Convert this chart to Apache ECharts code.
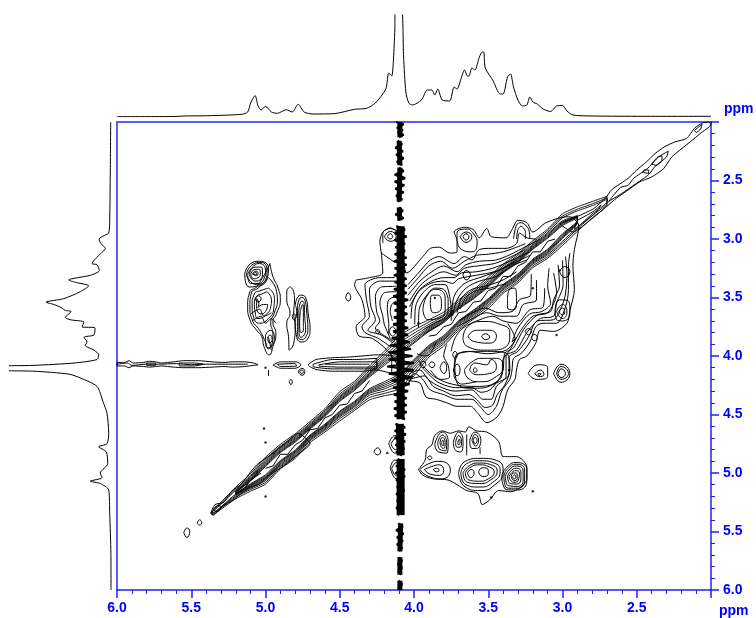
<!DOCTYPE html>
<html><head><meta charset="utf-8">
<style>html,body{margin:0;padding:0;background:#fff}#c{width:756px;height:618px}</style>
<script src="https://cdn.jsdelivr.net/npm/echarts@6/dist/echarts.min.js"></script>
</head><body><div id="c"></div>
<script>
// ---------- axis ticks
const ppmMin = 2.0, ppmMax = 6.0, ppmStep = 0.5, ppmLabel = 'ppm';
// ---------- 1D projections: [ppm, intensity]
const topSpectrum = [[6,.3],[5.61,.5],[5.55,1],[5.38,1.3],[5.16,2.7],[5.12,5],[5.10,14],[5.07,21.5],[5.05,11],[5.03,7],[5.0,10.7],[4.96,5],[4.92,3.7],[4.86,7.3],[4.82,5],[4.78,12.7],[4.74,5],[4.68,3],[4.54,3.3],[4.40,7.7],[4.32,8.7],[4.26,14],[4.19,28],[4.17,44],[4.15,41],[4.13,83],[4.125,110],[4.085,110],[4.07,60],[4.055,25],[4.035,14],[4.01,12],[3.95,17],[3.91,27],[3.88,27],[3.86,22],[3.84,28],[3.81,17],[3.76,16],[3.73,30],[3.71,28],[3.68,40],[3.66,47],[3.64,41],[3.63,41],[3.61,49],[3.59,47],[3.56,60],[3.54,65],[3.53,65],[3.52,49],[3.47,37],[3.42,23],[3.40,23],[3.37,40],[3.35,43],[3.33,30],[3.30,17],[3.27,11],[3.24,12],[3.22,20],[3.20,15],[3.17,13],[3.13,8],[3.08,5.5],[3.04,11],[3.0,11.5],[2.97,6],[2.93,2],[2.79,1],[2.46,.7],[2,.7]];
const leftSpectrum = [[.3,2],[.7,2.41],[1.3,2.84],[2.3,2.95],[6.7,2.97],[12,3.0],[10,3.04],[5.7,3.08],[12.3,3.14],[19,3.21],[14,3.22],[11.7,3.27],[20.7,3.31],[42.3,3.35],[35.7,3.37],[22.3,3.40],[30.7,3.45],[47.3,3.51],[65,3.54],[57,3.56],[49,3.59],[46,3.61],[40,3.62],[45.7,3.67],[40.7,3.69],[27,3.71],[29,3.75],[16,3.76],[17,3.82],[27,3.84],[24,3.88],[25.7,3.91],[17,3.95],[12.3,3.99],[14,4.03],[37,4.06],[77,4.08],[115,4.09],[115,4.12],[77,4.13],[42,4.155],[30,4.19],[14,4.26],[8,4.39],[4,4.49],[2.3,4.66],[4,4.75],[12.3,4.775],[4.7,4.82],[3.3,4.92],[10.7,5.0],[9,5.04],[20.7,5.07],[10.7,5.09],[2.3,5.145],[1.3,5.345],[.1,5.69],[0,6]];
// ---------- 2D contours: flat f2,f1 lists
const mainOuter = [4.39,3.35,4.30,3.33,4.21,3.29,4.22,3.12,4.23,3.03,4.21,2.94,4.16,2.91,4.11,2.95,4.07,3.18,4.05,3.29,3.94,3.15,3.89,3.08,3.83,3.07,3.76,3.12,3.71,3.11,3.71,3.01,3.73,2.94,3.66,2.90,3.60,2.92,3.56,2.99,3.51,2.91,3.48,2.98,3.38,2.99,3.34,2.92,3.30,2.84,3.24,2.86,3.20,2.94,3.11,2.86,2.97,2.81,2.93,2.82,2.89,2.89,2.92,3.09,2.93,3.23,2.92,3.43,2.95,3.61,2.97,3.72,3.06,3.79,3.15,3.78,3.18,3.89,3.24,4.00,3.29,4.03,3.31,4.12,3.32,4.20,3.37,4.29,3.40,4.43,3.44,4.52,3.51,4.57,3.57,4.49,3.62,4.43,3.71,4.43,3.78,4.40,3.85,4.37,3.92,4.35,3.96,4.23,4.05,4.20,4.16,3.98,4.28,3.85,4.37,3.83,4.39,3.75,4.33,3.66,4.35,3.52,4.40,3.39];
const upperOpen = [
 [4.04,3.39,3.97,3.29,3.89,3.18,3.83,3.15,3.73,3.21,3.66,3.15,3.61,3.18,3.56,3.09,3.48,3.08,3.38,3.08,3.31,3.04,3.29,2.95,3.24,2.99,3.18,3.0],
 [4.04,3.43,3.97,3.33,3.9,3.23,3.82,3.19,3.74,3.25,3.66,3.19,3.58,3.14,3.5,3.13,3.4,3.11,3.33,3.08,3.25,3.04],
 [4.04,3.48,3.96,3.36,3.88,3.28,3.80,3.23,3.71,3.28,3.65,3.22,3.56,3.19,3.45,3.18,3.355,3.135,3.24,3.06,3.15,3.0],
 [4.03,3.53,3.96,3.4,3.88,3.32,3.8,3.28,3.72,3.31,3.66,3.25,3.57,3.23,3.46,3.21,3.36,3.16,3.25,3.09],
 [4.03,3.58,3.96,3.43,3.88,3.36,3.80,3.33,3.73,3.33,3.68,3.29,3.58,3.28,3.47,3.25,3.355,3.19,3.22,3.11],
 [4.02,3.68,4.01,3.55,3.97,3.45,3.89,3.38,3.80,3.36,3.74,3.38,3.70,3.34,3.58,3.31,3.46,3.28,3.35,3.22,3.22,3.14],
 [3.995,3.73,3.99,3.58,3.94,3.46,3.86,3.39,3.79,3.39,3.76,3.49,3.75,3.605,3.78,3.68,3.85,3.75,3.93,3.81],
 [3.97,3.76,3.965,3.6,3.92,3.49,3.86,3.42,3.80,3.43,3.77,3.52,3.77,3.62,3.80,3.68,3.86,3.72,3.93,3.77],
 [3.74,3.66,3.71,3.52,3.65,3.42,3.56,3.36,3.445,3.32,3.34,3.23,3.24,3.18],
 [3.71,3.63,3.68,3.505,3.61,3.43,3.51,3.40,3.40,3.35,3.31,3.28],
 [3.75,3.70,3.73,3.49,3.66,3.38,3.535,3.32,3.43,3.27,3.31,3.18],
 [3.69,3.6,3.65,3.5,3.58,3.44,3.49,3.42,3.38,3.38],
 [3.33,3.0,3.31,2.88,3.28,2.86,3.23,2.91,3.22,3.0],
 [3.31,3.0,3.30,2.92,3.28,2.89,3.25,2.935,3.25,3.0],
 [4.22,3.12,4.13,3.2],[4.21,3.035,4.21,2.95,4.16,2.905,4.11,2.935]
];
const upperRings = [
 [3.94,3.605,3.91,3.48,3.85,3.43,3.79,3.505,3.79,3.605,3.84,3.68,3.905,3.69],
 [3.89,3.55,3.88,3.48,3.84,3.48,3.815,3.55,3.83,3.62,3.87,3.63],
 [3.71,3.01,3.71,2.95,3.65,2.915,3.60,2.955,3.575,3.035,3.61,3.11,3.68,3.09],
 [3.69,2.98,3.65,2.94,3.61,2.98,3.65,3.03],[3.67,2.98,3.65,2.955,3.63,2.98,3.65,3.01],
 [3.67,3.305,3.65,3.27,3.62,3.305,3.65,3.35],
 [4.2,2.98,4.16,2.935,4.12,2.98,4.16,3.02],[4.18,2.98,4.16,2.955,4.145,2.98,4.16,3.0],
 [3.05,3.605,3.02,3.52,2.96,3.53,2.95,3.63,3.0,3.70,3.04,3.69],
 [3.04,3.62,3.0,3.56,2.97,3.62,3.0,3.68],[3.025,3.62,3.0,3.59,2.985,3.62,3.0,3.65],
 [3.02,3.28,2.985,3.235,2.95,3.28,2.985,3.33],
 [3.37,3.505,3.355,3.43,3.32,3.42,3.31,3.55,3.33,3.605,3.37,3.59],
 [3.25,3.79,3.23,3.765,3.21,3.79,3.23,3.82],[3.21,3.84,3.19,3.815,3.17,3.84,3.19,3.87]
];
const lowerOpen = [
 [2.95,3.12,2.96,3.23,2.96,3.43,2.98,3.58,3.04,3.72,3.13,3.72,3.18,3.75,3.22,3.88,3.28,3.98,3.33,4.02,3.34,4.12,3.355,4.20,3.41,4.30,3.445,4.43,3.50,4.50,3.557,4.43,3.61,4.37,3.71,4.37,3.80,4.33,3.89,4.29,3.94,4.20,3.995,4.15,4.04,4.25],
 [2.98,3.15,2.97,3.3,2.98,3.47,3.0,3.56,3.06,3.69,3.17,3.70,3.23,3.84,3.30,3.96,3.36,4.01,3.36,4.14,3.39,4.25,3.44,4.33,3.47,4.42,3.52,4.44,3.58,4.37,3.63,4.33,3.72,4.34,3.8,4.3,3.87,4.26,3.93,4.17,4.03,4.2],
 [3.0,3.18,2.996,3.39,3.04,3.55,3.06,3.66,3.15,3.68,3.24,3.80,3.31,3.95,3.38,4.0,3.38,4.175,3.445,4.26,3.48,4.37,3.535,4.37,3.61,4.29,3.725,4.30,3.83,4.26,3.905,4.20,3.96,4.12,4.03,4.15],
 [3.03,3.22,3.02,3.4,3.06,3.52,3.08,3.62,3.17,3.65,3.26,3.77,3.33,3.93,3.39,3.98,3.40,4.12,3.43,4.2,3.49,4.29,3.55,4.31,3.61,4.27,3.72,4.27,3.83,4.23,3.89,4.17,3.95,4.09],
 [3.06,3.29,3.04,3.46,3.10,3.63,3.20,3.66,3.28,3.78,3.355,3.95,3.40,4.03,3.41,4.175,3.49,4.25,3.58,4.26,3.71,4.25,3.83,4.20,3.89,4.12],
 [3.09,3.25,3.1,3.4,3.08,3.55,3.14,3.62,3.22,3.64,3.30,3.76,3.34,3.88,3.31,3.84],
 [3.12,3.42,3.13,3.58,3.22,3.605,3.31,3.72,3.40,3.70,3.47,3.66,3.557,3.69,3.67,3.76,3.725,3.85,3.75,3.96],
 [3.175,3.35,3.175,3.52,3.265,3.56,3.31,3.66,3.42,3.66,3.51,3.63,3.62,3.69,3.71,3.75],
 [3.21,3.3,3.215,3.48,3.29,3.52,3.34,3.62,3.43,3.63,3.52,3.59,3.62,3.64,3.70,3.70],
 [3.37,3.72,3.32,3.85,3.38,3.95,3.51,3.98,3.64,3.96,3.72,4.0,3.73,4.17,3.68,4.24,3.58,4.22],
 [3.78,3.9,3.80,4.0,3.77,4.08,3.76,4.18,3.82,4.2,3.88,4.16,3.97,4.04],
 [3.85,3.88,3.89,3.98,3.93,4.0,3.98,3.98]
];
const lowerRings = [
 [3.67,3.85,3.64,3.75,3.535,3.705,3.42,3.73,3.355,3.80,3.38,3.92,3.51,3.95,3.64,3.92],
 [3.636,3.83,3.58,3.78,3.49,3.78,3.445,3.83,3.49,3.89,3.60,3.875],
 [3.545,3.83,3.52,3.81,3.49,3.84,3.52,3.86],
 [3.725,4.09,3.69,3.975,3.535,3.96,3.38,3.975,3.355,4.12,3.445,4.23,3.60,4.275,3.71,4.23],
 [3.66,4.12,3.61,4.05,3.535,4.02,3.445,4.02,3.40,4.09,3.445,4.175,3.557,4.22,3.636,4.19],
 [3.625,4.12,3.59,4.06,3.51,4.075,3.48,4.03,3.445,4.09,3.49,4.15,3.58,4.16],
 [3.60,4.12,3.59,4.10,3.575,4.125,3.595,4.14],
 [3.23,4.15,3.165,4.075,3.10,4.10,3.10,4.175,3.175,4.20],
 [3.185,4.15,3.15,4.12,3.125,4.16,3.16,4.175],[3.165,4.15,3.145,4.15,3.16,4.17],
 [3.06,4.15,3.01,4.07,2.95,4.15,3.01,4.225],[3.04,4.15,3.01,4.09,2.96,4.15,3.01,4.20],[3.03,4.15,3.01,4.11,2.98,4.15,3.01,4.185],
 [3.96,4.07,3.94,4.045,3.92,4.07,3.94,4.10],[3.90,4.075,3.88,4.05,3.86,4.075,3.88,4.10],
 [3.825,4.10,3.80,4.05,3.78,4.10,3.80,4.15],[3.735,4.12,3.71,4.07,3.69,4.12,3.71,4.17],[3.74,3.99,3.725,3.96,3.71,3.99,3.725,4.02]
];
const leftOpen = [
 [4.13,3.33,4.23,3.33,4.33,3.39,4.32,3.52,4.30,3.66,4.35,3.75,4.33,3.80,4.24,3.85,4.16,3.92],
 [4.12,3.36,4.23,3.36,4.30,3.43,4.29,3.58,4.26,3.69,4.31,3.78,4.22,3.82,4.14,3.89],
 [4.12,3.405,4.22,3.41,4.26,3.49,4.25,3.63,4.23,3.70,4.26,3.76,4.17,3.85,4.13,3.88],
 [4.12,3.45,4.20,3.46,4.23,3.55,4.21,3.66,4.20,3.73,4.16,3.85],
 [4.12,3.49,4.17,3.52,4.18,3.605,4.17,3.72,4.17,3.82],
 [4.12,3.53,4.15,3.56,4.16,3.62,4.145,3.7]
];
const leftRings = [
 [4.167,3.79,4.147,3.75,4.123,3.79,4.145,3.83],[4.26,3.795,4.246,3.775,4.23,3.795,4.246,3.81],[4.46,3.50,4.444,3.46,4.426,3.50,4.444,3.53],
 [4.27,4.82,4.247,4.785,4.225,4.82,4.247,4.845],
 [4.17,4.75,4.13,4.68,4.10,4.75,4.13,4.83],[4.155,4.75,4.12,4.70,4.10,4.78,4.125,4.80],
 [4.16,4.96,4.13,4.89,4.09,4.95,4.12,5.05],[4.15,4.96,4.12,4.91,4.10,4.98,4.12,5.02]
];
const peakClusterA = [
 [5.14,3.30,5.10,3.21,5.04,3.19,4.98,3.25,4.99,3.34,5.04,3.40,5.11,3.41],[5.13,3.31,5.09,3.22,5.03,3.20,4.99,3.27,5.0,3.35,5.06,3.39],
 [5.12,3.30,5.08,3.23,5.04,3.21,5.0,3.27,5.01,3.34,5.05,3.38,5.10,3.38],[5.11,3.30,5.07,3.24,5.03,3.24,5.02,3.29,5.03,3.34,5.07,3.36],
 [5.10,3.30,5.07,3.26,5.04,3.26,5.035,3.30,5.05,3.33,5.08,3.34],[5.09,3.30,5.065,3.275,5.05,3.29,5.055,3.31],[5.08,3.295,5.065,3.285,5.06,3.30,5.07,3.31]
];
const peakClusterB = [
 [4.97,3.21,4.95,3.32,4.915,3.42,4.90,3.52,4.925,3.635,4.95,3.71,4.93,3.81,4.95,3.92,4.975,3.99,5.01,3.92,5.025,3.835,5.06,3.78,5.105,3.69,5.12,3.58,5.105,3.45,5.06,3.41],
 [4.98,3.33,4.925,3.45,4.92,3.53,4.94,3.63,4.965,3.72,4.95,3.81,4.955,3.89,4.98,3.94,5.0,3.88,5.04,3.78,5.09,3.69,5.105,3.58,5.095,3.46,5.05,3.42],
 [4.98,3.42,4.94,3.50,4.945,3.60,4.98,3.68,5.04,3.72,5.08,3.67,5.09,3.57,5.075,3.47,5.03,3.44],
 [4.99,3.45,4.96,3.52,4.965,3.58,5.0,3.65,5.05,3.68,5.07,3.62,5.075,3.56,5.06,3.49,5.025,3.47],
 [5.06,3.51,5.045,3.55,5.05,3.585,5.015,3.56,4.985,3.56,5.0,3.62,5.03,3.64,5.06,3.58],
 [5.07,3.51,5.05,3.485,5.03,3.51,5.05,3.54],
 [5.0,3.82,4.97,3.78,4.94,3.84,4.95,3.90,4.98,3.93,5.0,3.88],[4.985,3.84,4.97,3.82,4.955,3.86,4.975,3.89]
];
const peakClusterBOpen = [[5.09,3.70,5.03,3.66,5.0,3.72,4.96,3.68,4.93,3.72],[5.1,3.64,5.04,3.60,5.01,3.66,4.96,3.63],[4.98,3.84,4.96,3.95],[4.98,4.12,4.98,4.17]];
const peakClusterC = [
 [4.835,3.407,4.81,3.45,4.805,3.52,4.81,3.635,4.80,3.75,4.81,3.89,4.84,3.95,4.845,3.835,4.857,3.72,4.835,3.635,4.857,3.52,4.857,3.45],
 [4.82,3.66,4.81,3.64,4.795,3.66,4.81,3.69],
 [4.80,3.56,4.765,3.48,4.73,3.50,4.71,3.66,4.70,3.76,4.72,3.86,4.76,3.88,4.795,3.80,4.80,3.72,4.79,3.62],
 [4.785,3.58,4.76,3.50,4.735,3.52,4.72,3.66,4.715,3.76,4.73,3.84,4.76,3.86,4.785,3.79,4.785,3.68],
 [4.775,3.60,4.755,3.53,4.74,3.55,4.735,3.68,4.73,3.77,4.74,3.82,4.76,3.84,4.775,3.77],
 [4.765,3.62,4.75,3.56,4.745,3.60,4.745,3.70,4.745,3.78,4.76,3.80,4.77,3.72],
 [4.78,4.135,4.755,4.105,4.735,4.135,4.755,4.165],[4.77,4.135,4.755,4.12,4.745,4.135,4.755,4.15],[4.84,4.22,4.83,4.20,4.82,4.22,4.83,4.245]
];
const ridgeRings = [
 [6.0,4.055,5.95,4.055,5.92,4.04,5.89,4.06,5.82,4.055,5.78,4.045,5.74,4.05,5.7,4.06,5.62,4.05,5.55,4.04,5.45,4.04,5.36,4.05,5.28,4.055,5.22,4.05,5.14,4.05,5.08,4.06,5.05,4.075,5.08,4.08,5.14,4.09,5.22,4.095,5.28,4.09,5.36,4.095,5.45,4.10,5.55,4.10,5.62,4.095,5.7,4.085,5.74,4.09,5.78,4.095,5.82,4.09,5.89,4.085,5.92,4.10,5.95,4.085,6.0,4.085],
 [5.58,4.06,5.48,4.06,5.42,4.07,5.48,4.085,5.58,4.085],[5.80,4.06,5.74,4.06,5.74,4.08,5.80,4.08],
 [4.95,4.077,4.90,4.05,4.79,4.05,4.76,4.077,4.80,4.105,4.90,4.105],[4.92,4.07,4.80,4.065,4.79,4.085,4.90,4.09],
 [4.71,4.07,4.66,4.03,4.55,4.015,4.45,4.01,4.35,4.0,4.25,3.99,4.15,4.0,4.15,4.15,4.25,4.12,4.35,4.13,4.45,4.13,4.55,4.13,4.66,4.115,4.71,4.08],
 [4.68,4.07,4.55,4.03,4.4,4.03,4.25,4.02,4.25,4.11,4.4,4.11,4.55,4.11,4.68,4.09],
 [4.64,4.075,4.5,4.05,4.35,4.05,4.25,4.05,4.25,4.09,4.35,4.095,4.5,4.095,4.64,4.085]
];
const ridgeOpen = [[6.0,4.07,5.93,4.06,5.9,4.08,5.8,4.07,5.72,4.07,5.6,4.065,5.5,4.075,5.4,4.07,5.25,4.07,5.12,4.07],[4.6,4.07,4.3,4.07]];
const lowerGroupOuter = [3.97,4.97,3.925,4.89,3.915,4.80,3.88,4.76,3.86,4.68,3.81,4.64,3.755,4.66,3.70,4.64,3.655,4.65,3.63,4.605,3.58,4.64,3.51,4.65,3.43,4.73,3.40,4.86,3.31,4.86,3.24,4.95,3.24,5.05,3.29,5.13,3.35,5.16,3.43,5.15,3.49,5.23,3.54,5.27,3.57,5.175,3.645,5.15,3.71,5.10,3.77,5.06,3.87,5.05,3.94,5.02];
const lowerGroupRings = [
 [3.86,4.75,3.81,4.65,3.77,4.73,3.78,4.83,3.835,4.82],[3.84,4.74,3.81,4.675,3.78,4.74,3.785,4.81,3.825,4.80],[3.825,4.74,3.81,4.695,3.79,4.74,3.80,4.79,3.815,4.78],[3.815,4.74,3.805,4.72,3.80,4.75,3.805,4.77],
 [3.735,4.74,3.70,4.65,3.67,4.72,3.685,4.82,3.725,4.80],[3.72,4.74,3.70,4.68,3.68,4.73,3.69,4.78,3.71,4.78],[3.705,4.74,3.695,4.71,3.69,4.74,3.70,4.76],
 [3.625,4.72,3.59,4.65,3.55,4.72,3.58,4.79,3.61,4.79],[3.61,4.72,3.59,4.67,3.565,4.72,3.585,4.77],[3.60,4.72,3.59,4.695,3.575,4.72,3.59,4.75],
 [3.96,4.97,3.90,4.92,3.825,4.90,3.755,4.975,3.81,5.05,3.90,5.03],[3.93,4.97,3.87,4.94,3.83,4.93,3.80,4.98,3.83,5.02,3.89,5.01],[3.87,4.97,3.85,4.96,3.83,4.975,3.85,4.99],[3.91,4.87,3.895,4.855,3.88,4.87,3.895,4.885],
 [3.70,5.0,3.655,4.90,3.555,4.875,3.43,4.90,3.40,4.99,3.455,5.10,3.555,5.15,3.655,5.12],[3.685,5.0,3.645,4.92,3.56,4.895,3.45,4.92,3.42,4.985,3.47,5.08,3.56,5.12,3.65,5.10],
 [3.67,5.0,3.63,4.94,3.56,4.915,3.47,4.935,3.44,4.985,3.485,5.06,3.56,5.09,3.64,5.08],[3.655,5.0,3.625,4.955,3.56,4.93,3.49,4.95,3.46,4.99,3.50,5.05,3.56,5.07,3.63,5.06],
 [3.64,5.0,3.615,4.97,3.595,5.0,3.62,5.04],[3.565,4.99,3.54,4.955,3.50,4.975,3.50,5.01,3.54,5.03]
];
const lowerGroupOpen = [[3.645,4.67,3.645,4.85],[3.555,4.78,3.555,4.84]];
const darkPeakK = [
 [3.41,5.03,3.375,4.95,3.31,4.91,3.24,4.975,3.24,5.06,3.30,5.145,3.365,5.145,3.40,5.10],[3.395,5.03,3.37,4.965,3.31,4.925,3.255,4.975,3.255,5.06,3.30,5.13,3.36,5.13,3.39,5.09],
 [3.385,5.03,3.36,4.975,3.31,4.94,3.265,4.985,3.265,5.06,3.305,5.115,3.355,5.11,3.38,5.08],[3.37,5.03,3.35,4.985,3.31,4.96,3.28,4.99,3.28,5.05,3.31,5.095,3.35,5.09,3.365,5.07],
 [3.36,5.03,3.34,4.995,3.315,4.98,3.29,5.0,3.295,5.05,3.32,5.08,3.345,5.07],[3.345,5.03,3.33,5.0,3.31,5.0,3.305,5.04,3.32,5.065,3.34,5.05],[3.335,5.03,3.32,5.015,3.315,5.04,3.33,5.05]
];
const diagonalEndRings = [[5.55,5.51,5.53,5.47,5.51,5.50,5.53,5.55],[5.46,5.43,5.445,5.40,5.43,5.425,5.445,5.445],[5.35,5.31,5.32,5.28,5.30,5.29,5.33,5.33]];
const diagHeadOutline = [5.37,5.345,5.34,5.27,5.28,5.25,5.23,5.16,5.16,5.09,5.10,4.99,5.05,4.92,4.97,4.85,4.87,4.75,4.78,4.66,4.70,4.75,4.79,4.85,4.90,4.96,4.99,5.03,5.037,5.09,5.115,5.13,5.217,5.23,5.295,5.29,5.35,5.36];
const diagTailOutline = [3.02,2.87,2.905,2.81,2.79,2.74,2.71,2.65,2.67,2.58,2.557,2.48,2.50,2.41,2.434,2.34,2.377,2.27,2.31,2.21,2.243,2.17,2.164,2.14,2.108,2.05,2.052,2.005,2.0,2.0,2.0,2.02,2.074,2.10,2.14,2.17,2.21,2.24,2.265,2.30,2.32,2.40,2.40,2.47,2.478,2.51,2.557,2.58,2.636,2.65,2.70,2.72,2.815,2.84,2.93,2.94];
const diagTailRings = [
 [2.69,2.68,2.61,2.56,2.557,2.54,2.52,2.48,2.43,2.40,2.355,2.30,2.288,2.25,2.30,2.30,2.377,2.38,2.42,2.45,2.52,2.54,2.60,2.61],
 [2.40,2.36,2.36,2.30,2.33,2.29,2.33,2.33,2.37,2.37],[2.46,2.43,2.45,2.41,2.42,2.41,2.42,2.44],[2.11,2.07,2.06,2.02,2.07,2.06,2.1,2.09],
 [2.9,2.84,2.8,2.77,2.74,2.71,2.78,2.78,2.85,2.85,2.92,2.92]
];
const diagBeadLines = [
 [5.0,4.96,4.95,4.94,4.9,4.84,4.85,4.84,4.8,4.76,4.75,4.72,4.7,4.63,4.65,4.62,4.6,4.53,4.55,4.5,4.5,4.42,4.45,4.41,4.4,4.32,4.35,4.3,4.3,4.21],
 [3.9,3.83,3.85,3.82,3.8,3.75,3.75,3.73,3.7,3.63,3.65,3.62,3.6,3.54,3.55,3.53,3.5,3.44,3.45,3.42,3.4,3.32,3.35,3.32,3.3,3.23,3.25,3.2,3.2,3.11,3.15,3.11,3.1,3.02,3.05,3.0],
 [5.3,5.29,5.22,5.2,5.14,5.13,5.1,5.06,5.03,5.0]
];
const noiseDots = [[3.86,3.505],[3.2,3.42],[3.36,4.12],[3.04,3.82],[3.97,3.72],[3.2,5.155],[4.18,4.83],[3.48,5.21],[5.0,5.2],[5.0,4.1],[5.01,4.62],[5.0,4.74],[3.02,3.27]];
// vertical t1 stripe near 4.09 ppm: zigzag runs of contour ink around a solid core
const stripeRuns = [
 [4.12,2.0,4.07,2.02,4.115,2.05,4.075,2.07,4.11,2.09,4.07,2.11,4.10,2.13],
 [4.11,2.16,4.08,2.19,4.125,2.22,4.075,2.25,4.12,2.28,4.07,2.31,4.115,2.34,4.08,2.37],
 [4.10,2.39,4.07,2.42,4.13,2.45,4.06,2.48,4.13,2.51,4.065,2.54,4.125,2.57,4.07,2.60,4.12,2.63,4.08,2.66,4.11,2.68],
 [4.10,2.73,4.075,2.76,4.125,2.79,4.07,2.82,4.11,2.84],
 [4.12,2.89,4.06,2.92,4.13,2.95,4.05,2.98,4.13,3.01,4.06,3.04,4.125,3.07,4.06,3.10,4.13,3.13,4.05,3.16,4.135,3.19,4.05,3.22,4.13,3.25,4.055,3.28,4.135,3.31,4.05,3.34,4.13,3.37,4.05,3.40,4.135,3.43,4.05,3.46,4.14,3.49,4.04,3.52,4.135,3.55,4.05,3.58,4.13,3.61,4.045,3.64,4.135,3.67,4.05,3.70,4.14,3.73,4.04,3.76,4.14,3.79,4.04,3.82,4.15,3.85,4.03,3.88,4.16,3.91,4.02,3.94,4.17,3.97,4.01,4.0,4.17,4.03,4.0,4.06,4.18,4.09,4.0,4.12,4.17,4.15,4.01,4.18,4.15,4.21,4.03,4.24,4.14,4.27,4.04,4.30,4.135,4.33,4.05,4.36,4.13,4.39,4.05,4.42,4.135,4.45,4.05,4.48,4.13,4.51,4.06,4.54],
 [4.125,4.58,4.06,4.61,4.13,4.64,4.055,4.67,4.13,4.70,4.06,4.73,4.125,4.76,4.065,4.79,4.12,4.82,4.08,4.85],
 [4.11,4.88,4.07,4.91,4.12,4.94,4.06,4.97,4.125,5.0,4.06,5.03,4.12,5.06,4.07,5.09,4.115,5.12,4.065,5.15,4.12,5.18,4.07,5.21,4.115,5.24,4.07,5.27,4.12,5.30,4.075,5.33,4.11,5.36],
 [4.105,5.43,4.075,5.46,4.12,5.49,4.07,5.52,4.115,5.55,4.075,5.58,4.115,5.61,4.08,5.64,4.10,5.67],
 [4.105,5.72,4.08,5.75,4.11,5.78,4.08,5.81,4.105,5.84,4.085,5.87],
 [4.105,5.92,4.08,5.95,4.105,5.98,4.085,6.0]
];
const stripeCoreThin = [[4.095,2.0,4.095,2.13],[4.1,2.16,4.095,2.37],[4.095,2.39,4.1,2.68],[4.1,2.73,4.095,2.84],[4.09,5.43,4.095,5.67],[4.095,5.72,4.095,5.87],[4.095,5.92,4.095,6.0]];
const stripeCoreWide = [[4.09,2.89,4.09,4.54],[4.095,4.58,4.09,4.85],[4.09,4.88,4.09,5.36]];
// diagonal ridge: stations, centre offset and half-width (in f1) of each contour level
const diagF = [5.36,5.30,5.20,5.10,5.00,4.90,4.80,4.70,4.60,4.50,4.40,4.30,4.20,4.10,4.00,3.90,3.80,3.70,3.60,3.50,3.40,3.30,3.20,3.10,3.00,2.90,2.80,2.70];
const diagShift = [-.02,-.02,-.03,-.02,-.02,-.04,-.03,-.05,-.05,-.07,-.06,-.07,-.05,-.03,-.04,-.05,-.03,-.05,-.04,-.04,-.06,-.05,-.07,-.06,-.08,-.07,-.05,-.03];
const diagLevel1 = [.02,.03,.05,.075,.115,.105,.105,.09,.10,.125,.125,.145,.19,.24,.21,.16,.145,.13,.125,.135,.125,.125,.115,.125,.135,.105,.07,.035];
const diagLevel2 = [.012,.02,.035,.06,.10,.09,.09,.075,.085,.105,.11,.125,.17,.21,.18,.14,.125,.115,.11,.115,.11,.11,.10,.11,.115,.085,.05,.022];
const diagLevel3 = [.006,.012,.025,.05,.085,.08,.08,.065,.075,.09,.095,.105,.15,.18,.155,.12,.11,.10,.095,.10,.095,.095,.085,.095,.10,.07,.035,.01];
const diagInnerF = diagF.slice(2,26);
const diagInnerShift = diagShift.slice(2,26);
const diagLevel4 = [.016,.04,.075,.07,.07,.055,.065,.08,.085,.09,.13,.155,.13,.105,.095,.085,.085,.085,.085,.085,.075,.085,.075,.03];
const diagLevel5 = [.012,.032,.065,.06,.06,.048,.055,.07,.075,.08,.115,.135,.11,.09,.085,.075,.075,.075,.075,.075,.065,.075,.065,.025];
const diagLevel6 = [.008,.025,.055,.05,.05,.04,.048,.06,.065,.07,.10,.115,.095,.08,.075,.065,.065,.065,.065,.065,.058,.065,.055,.02];
const diagLevel7 = [.005,.018,.045,.042,.042,.033,.04,.05,.055,.06,.085,.10,.08,.07,.065,.058,.055,.058,.058,.056,.05,.055,.045,.015];
const diagLevel8 = [.004,.012,.035,.034,.034,.026,.032,.042,.046,.05,.07,.085,.07,.06,.055,.05,.048,.05,.05,.048,.042,.047,.035,.01];

// ---------- build
const pairs = f => { const o=[]; for(let i=0;i<f.length;i+=2) o.push([f[i],f[i+1]]); return o; };
const closed = f => { const p=pairs(f); p.push(p[0]); return p; };
const band = (fs,sh,w) => { const up=fs.map((x,i)=>[x,x+sh[i]-w[i]]), lo=fs.map((x,i)=>[x,x+sh[i]+w[i]]).reverse(); return up.concat(lo,[up[0]]); };
const inkLine = (data,width,smooth) => ({type:'line',xAxisIndex:0,yAxisIndex:0,data,symbol:'none',silent:true,smooth,clip:true,animation:false,
  lineStyle:{color:'#000',width}});
const series = [];
[mainOuter,lowerGroupOuter].forEach(f=>series.push(inkLine(closed(f),1,.3)));
[...upperRings,...lowerRings,...leftRings,...peakClusterA,...peakClusterB,...peakClusterC,...lowerGroupRings,...darkPeakK,...diagonalEndRings]
  .forEach(f=>series.push(inkLine(closed(f),1,.55)));
ridgeRings.forEach(f=>series.push(inkLine(closed(f),1,.2)));
[...upperOpen,...lowerOpen,...leftOpen,...peakClusterBOpen,...lowerGroupOpen,...ridgeOpen].forEach(f=>series.push(inkLine(pairs(f),1,.3)));
[diagLevel1,diagLevel2,diagLevel3].forEach(w=>series.push(inkLine(band(diagF,diagShift,w),.9,.2)));
[diagLevel4,diagLevel5,diagLevel6,diagLevel7,diagLevel8].forEach(w=>series.push(inkLine(band(diagInnerF,diagInnerShift,w),.9,.2)));
[diagHeadOutline,diagTailOutline,...diagTailRings].forEach(f=>series.push(inkLine(closed(f),1,.2)));
diagBeadLines.forEach(f=>series.push(inkLine(pairs(f),1,false)));
stripeRuns.forEach(f=>series.push(inkLine(pairs(f),2.2,false)));
stripeCoreThin.forEach(f=>series.push(inkLine(pairs(f),5,false)));
stripeCoreWide.forEach(f=>series.push(inkLine(pairs(f),8,false)));
series.push({type:'scatter',xAxisIndex:0,yAxisIndex:0,data:noiseDots,symbolSize:2.5,silent:true,animation:false,itemStyle:{color:'#000'}});
series.push({type:'line',xAxisIndex:2,yAxisIndex:2,data:topSpectrum,symbol:'none',silent:true,smooth:.25,animation:false,lineStyle:{color:'#000',width:1}});
series.push({type:'line',xAxisIndex:3,yAxisIndex:3,data:leftSpectrum,symbol:'none',silent:true,smooth:.25,animation:false,lineStyle:{color:'#000',width:1}});

const BLUE='#0000ff', LINE='#2020f0', SOFT='#5a5aff';
const lbl=v=>(Math.abs(v-ppmMin)<1e-6?'':v.toFixed(1));
const font={color:BLUE,fontFamily:'Liberation Sans',fontWeight:'bold',fontSize:14};
const hidden={show:false};
const option={
 animation:false,backgroundColor:'#fff',
 grid:[{left:117,top:122,width:594,height:468},{left:117,top:15,width:594,height:102},{left:10,top:122,width:101,height:468}],
 xAxis:[
  {gridIndex:0,type:'value',position:'bottom',inverse:true,min:ppmMin,max:ppmMax,interval:ppmStep,splitLine:hidden,
   axisLine:{onZero:false,lineStyle:{color:LINE,width:1.5}},axisTick:{length:8,inside:false,lineStyle:{color:LINE,width:1.5}},
   minorTick:{show:true,splitNumber:5,length:4,lineStyle:{color:LINE,width:1}},axisLabel:{...font,margin:11,formatter:lbl}},
  {gridIndex:0,type:'value',position:'top',inverse:true,min:ppmMin,max:ppmMax,splitLine:hidden,axisTick:hidden,axisLabel:hidden,
   axisLine:{onZero:false,lineStyle:{color:SOFT,width:2}}},
  {gridIndex:1,type:'value',inverse:true,min:ppmMin,max:ppmMax,show:false},
  {gridIndex:2,type:'value',inverse:true,min:0,max:101,show:false}
 ],
 yAxis:[
  {gridIndex:0,type:'value',position:'right',inverse:true,min:ppmMin,max:ppmMax,interval:ppmStep,splitLine:hidden,
   axisLine:{onZero:false,lineStyle:{color:LINE,width:1.5}},axisTick:{length:8,inside:false,lineStyle:{color:LINE,width:1.5}},
   minorTick:{show:true,splitNumber:5,length:4,lineStyle:{color:LINE,width:1}},axisLabel:{...font,margin:12,formatter:lbl}},
  {gridIndex:0,type:'value',position:'left',inverse:true,min:ppmMin,max:ppmMax,splitLine:hidden,axisTick:hidden,axisLabel:hidden,
   axisLine:{onZero:false,lineStyle:{color:SOFT,width:2}}},
  {gridIndex:1,type:'value',min:0,max:102,show:false},
  {gridIndex:2,type:'value',inverse:true,min:ppmMin,max:ppmMax,show:false}
 ],
 graphic:[
  {type:'text',left:724,top:102,silent:true,style:{text:ppmLabel,fill:BLUE,font:'bold 14px "Liberation Sans"'}},
  {type:'text',left:719,top:604,silent:true,style:{text:ppmLabel,fill:BLUE,font:'bold 14px "Liberation Sans"'}}
 ],
 series
};
echarts.init(document.getElementById('c'),null,{renderer:'canvas'}).setOption(option);
</script></body></html>
